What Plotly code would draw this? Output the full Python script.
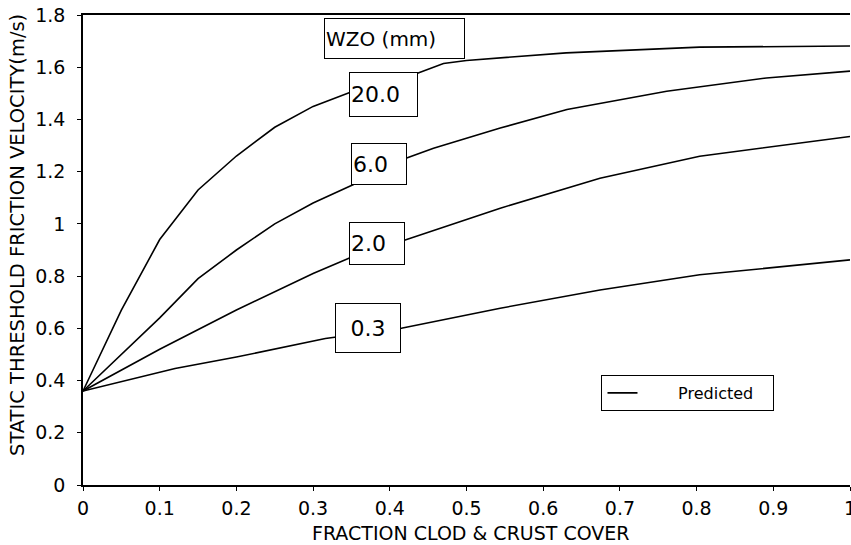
import plotly.graph_objects as go

# ---- data ----
x_20 = [0, 0.05, 0.1, 0.15, 0.2, 0.25, 0.3, 0.352, 0.437, 0.47, 0.5, 0.63, 0.804, 1.0]
y_20 = [0.36, 0.67, 0.94, 1.13, 1.26, 1.37, 1.45, 1.508, 1.578, 1.614, 1.626, 1.655, 1.677, 1.681]

x_6 = [0, 0.05, 0.1, 0.15, 0.2, 0.25, 0.3, 0.352, 0.422, 0.457, 0.544, 0.631, 0.761, 0.891, 1.0]
y_6 = [0.36, 0.50, 0.64, 0.79, 0.90, 1.0, 1.08, 1.15, 1.252, 1.29, 1.367, 1.438, 1.508, 1.559, 1.585]

x_2 = [0, 0.1, 0.2, 0.3, 0.352, 0.422, 0.544, 0.674, 0.804, 1.0]
y_2 = [0.36, 0.52, 0.67, 0.81, 0.875, 0.94, 1.06, 1.175, 1.259, 1.335]

x_03 = [0, 0.12, 0.2, 0.316, 0.415, 0.544, 0.674, 0.804, 1.0]
y_03 = [0.36, 0.446, 0.49, 0.561, 0.60, 0.677, 0.747, 0.805, 0.862]

curve_labels = ["20.0", "6.0", "2.0", "0.3"]
label_x = [0.392, 0.386, 0.383, 0.372]
label_y = [1.496, 1.229, 0.925, 0.601]
label_w = [65, 52, 52, 62]
label_h = [41, 38, 39, 46]
label_align = ["left", "left", "left", "center"]

x_ticks = [0, 0.1, 0.2, 0.3, 0.4, 0.5, 0.6, 0.7, 0.8, 0.9, 1.0]
x_ticktext = ["0", "0.1", "0.2", "0.3", "0.4", "0.5", "0.6", "0.7", "0.8", "0.9", "1"]
y_ticks = [0, 0.2, 0.4, 0.6, 0.8, 1.0, 1.2, 1.4, 1.6, 1.8]
y_ticktext = ["0", "0.2", "0.4", "0.6", "0.8", "1", "1.2", "1.4", "1.6", "1.8"]

FONT = "DejaVu Sans"

fig = go.Figure()
series = [(x_20, y_20), (x_6, y_6), (x_2, y_2), (x_03, y_03)]
for i, (xs, ys) in enumerate(series):
    fig.add_trace(go.Scatter(
        x=xs, y=ys, mode="lines",
        line=dict(color="black", width=1.6),
        name="\u00a0" * 7 + "Predicted" + "\u00a0" * 3, legendgroup="pred",
        showlegend=(i == 0),
    ))

annotations = []
for t, ax, ay, w, h, al in zip(curve_labels, label_x, label_y, label_w, label_h, label_align):
    annotations.append(dict(
        x=ax, y=ay, xref="x", yref="y", text=t, showarrow=False,
        font=dict(family=FONT, size=22, color="black"),
        bgcolor="white", bordercolor="black", borderwidth=1, borderpad=1,
        width=w, height=h, align=al, valign="middle",
    ))
annotations.append(dict(
    x=0.406, y=1.71, xref="x", yref="y", text="WZO (mm)", showarrow=False,
    font=dict(family=FONT, size=20, color="black"),
    bgcolor="white", bordercolor="black", borderwidth=1, borderpad=1,
    width=137, height=37, align="left", valign="middle",
))
annotations.append(dict(
    x=-0.0847, y=0.532, xref="paper", yref="paper",
    text="STATIC THRESHOLD FRICTION VELOCITY(m/s)", showarrow=False,
    textangle=-90, font=dict(family=FONT, size=19.5, color="black"),
    xanchor="center", yanchor="middle",
))
annotations.append(dict(
    x=0.5065, y=-0.102, xref="paper", yref="paper",
    text="FRACTION CLOD &amp; CRUST COVER", showarrow=False,
    font=dict(family=FONT, size=19, color="black"),
    xanchor="center", yanchor="middle",
))

fig.update_layout(
    width=851, height=545,
    margin=dict(l=83, r=1, t=15, b=60, autoexpand=False),
    paper_bgcolor="white", plot_bgcolor="white",
    font=dict(family=FONT, color="black"),
    annotations=annotations,
    showlegend=True,
    legend=dict(
        x=0.676, y=0.234, xanchor="left", yanchor="top",
        bordercolor="black", borderwidth=1, bgcolor="white",
        font=dict(family=FONT, size=16, color="black"),
        itemwidth=30,
    ),
    xaxis=dict(
        range=[0, 1], tickvals=x_ticks, ticktext=x_ticktext,
        showgrid=False, zeroline=False, automargin=False,
        showline=True, linecolor="black", linewidth=1.5, mirror=True,
        ticks="outside", ticklen=4, tickcolor="black", tickwidth=1,
        tickfont=dict(family=FONT, size=19, color="black"),
        ticklabelstandoff=1, ticklabeloverflow="allow",
    ),
    yaxis=dict(
        range=[0, 1.8], tickvals=y_ticks, ticktext=y_ticktext,
        showgrid=False, zeroline=False, automargin=False,
        showline=True, linecolor="black", linewidth=1.5,
        ticks="outside", ticklen=4, tickcolor="black", tickwidth=1,
        tickfont=dict(family=FONT, size=19, color="black"),
        ticklabelstandoff=8,
    ),
)

fig.write_html("out.html")
